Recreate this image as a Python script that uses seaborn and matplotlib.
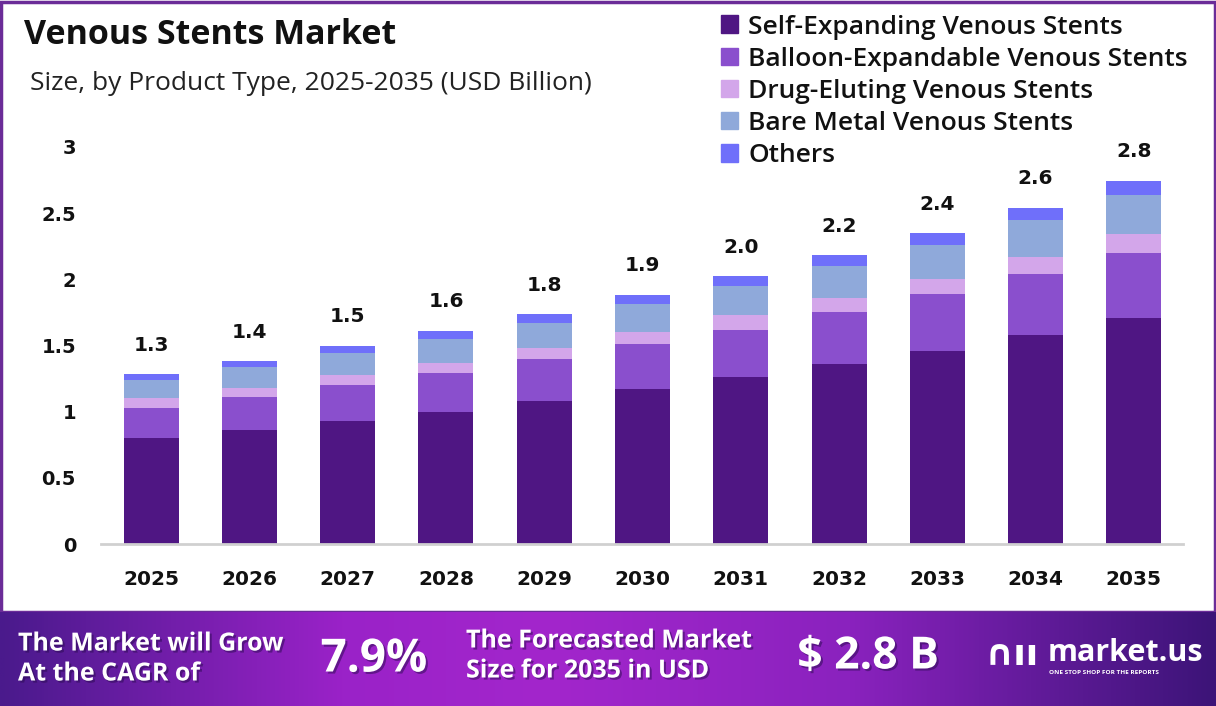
import numpy as np
import pandas as pd
import matplotlib
matplotlib.use("Agg")
import matplotlib.pyplot as plt
import seaborn as sns
from matplotlib.colors import LinearSegmentedColormap
from matplotlib.patches import Rectangle
import matplotlib.patheffects as pe

# ---------------- data ----------------
years = ["2025", "2026", "2027", "2028", "2029", "2030",
         "2031", "2032", "2033", "2034", "2035"]
self_expanding = [0.80, 0.86, 0.93, 1.00, 1.08, 1.17, 1.26, 1.36, 1.46, 1.58, 1.71]
balloon_expandable = [0.23, 0.25, 0.27, 0.29, 0.32, 0.34, 0.36, 0.39, 0.43, 0.46, 0.49]
drug_eluting = [0.07, 0.07, 0.075, 0.08, 0.08, 0.09, 0.11, 0.11, 0.11, 0.13, 0.14]
bare_metal = [0.14, 0.16, 0.17, 0.18, 0.19, 0.21, 0.22, 0.24, 0.26, 0.28, 0.30]
others = [0.045, 0.043, 0.053, 0.06, 0.066, 0.073, 0.075, 0.083, 0.09, 0.09, 0.106]
total_labels = ["1.3", "1.4", "1.5", "1.6", "1.8", "1.9", "2.0", "2.2", "2.4", "2.6", "2.8"]
y_ticks = [0, 0.5, 1, 1.5, 2, 2.5, 3]
y_tick_labels = ["0", "0.5", "1", "1.5", "2", "2.5", "3"]

segments = ["Self-Expanding Venous Stents", "Balloon-Expandable Venous Stents",
            "Drug-Eluting Venous Stents", "Bare Metal Venous Stents", "Others"]
seg_values = [self_expanding, balloon_expandable, drug_eluting, bare_metal, others]
colors = ["#4f1683", "#8a4fcd", "#d3a6ea", "#8fa9da", "#6f6ffa"]

title = "Venous Stents Market"
subtitle = "Size, by Product Type, 2025-2035 (USD Billion)"
cagr = "7.9%"
forecast = "$ 2.8 B"

# ---------------- style ----------------
sns.set_theme(style="white")
FONT = ["Open Sans", "DejaVu Sans"]
NUMF = ["DejaVu Sans"]
plt.rcParams["font.family"] = FONT

W, H = 1216, 706
fig = plt.figure(figsize=(W / 100, H / 100), dpi=100)
fig.patch.set_facecolor("white")

def fx(px):
    return px / W

def fy(py):
    return 1 - py / H

# axes: x from 101 to 1183, y from 147 (value 3) to 544 (value 0)
ax = fig.add_axes([fx(101), fy(544), fx(1183) - fx(101), fy(147) - fy(544)])

cum = np.zeros(len(years))
cums = []
for vals in seg_values:
    cum = cum + np.array(vals)
    cums.append(cum.copy())

# draw cumulative layers from top to bottom so the stacks show
for i in range(len(segments) - 1, -1, -1):
    d = pd.DataFrame({"year": years, "value": cums[i]})
    sns.barplot(data=d, x="year", y="value", color=colors[i], width=0.56,
                saturation=1, ax=ax, zorder=2 + (len(segments) - i),
                linewidth=0, edgecolor="none")

totals = cums[-1]
for i, lab in enumerate(total_labels):
    ax.annotate(lab, (i, totals[i]), xytext=(0, 14), textcoords="offset points",
                ha="center", va="bottom", fontsize=14.5, fontweight="bold",
                color="#111111", annotation_clip=False, family=NUMF)

ax.set_xlim(-0.51, 10.5)
ax.set_ylim(0, 3)
ax.set_yticks(y_ticks)
ax.set_yticklabels(y_tick_labels, fontsize=14, fontweight="bold",
                   color="#111111", family=NUMF)
ax.tick_params(axis="y", length=0, pad=18)
ax.tick_params(axis="x", length=0, pad=19)
for t in ax.get_xticklabels():
    t.set_fontweight("bold")
    t.set_color("#111111")
    t.set_fontsize(14.5)
    t.set_family(NUMF)
ax.set_xlabel("")
ax.set_ylabel("")
for s in ["top", "right", "left"]:
    ax.spines[s].set_visible(False)
ax.spines["bottom"].set_color("#d0d0d0")
ax.spines["bottom"].set_linewidth(2)
ax.spines["bottom"].set_zorder(20)
ax.set_facecolor("none")
ax.grid(False)

# legend
handles = [Rectangle((0, 0), 1, 1, color=c) for c in colors]
leg = fig.legend(handles, segments, loc="upper left",
                 bbox_to_anchor=(fx(710), fy(4)), frameon=False,
                 fontsize=19, handlelength=0.65, handleheight=0.65,
                 handletextpad=0.4, labelspacing=0.27, borderaxespad=0)
for t in leg.get_texts():
    t.set_fontweight("semibold")
    t.set_color("#111111")

# titles
fig.text(fx(24), fy(35), title, fontsize=24.5, fontweight="bold",
         color="#111111", va="center", ha="left")
fig.text(fx(30), fy(83), subtitle, fontsize=19, color="#222222",
         va="center", ha="left")

# border around chart area
border = Rectangle((fx(1), fy(612)), fx(1214), fy(2) - fy(612),
                   transform=fig.transFigure, fill=False,
                   edgecolor="#6b2c98", linewidth=2.5, zorder=0)
fig.add_artist(border)

# bottom banner with gradient
bax = fig.add_axes([0, 0, 1, fy(612)])
cmap = LinearSegmentedColormap.from_list(
    "banner", [(0.0, "#4a1a8c"), (0.28, "#9a22c8"), (0.45, "#a326cc"),
               (0.7, "#8a22be"), (1.0, "#3c1478")])
grad = np.linspace(0, 1, 512).reshape(1, -1)
bax.imshow(grad, aspect="auto", cmap=cmap, extent=[0, 1, 0, 1])
bax.set_axis_off()

shadow = [pe.withSimplePatchShadow(offset=(1.5, -1.5), shadow_rgbFace="#2a0a50", alpha=0.5)]
fig.text(fx(18), fy(644), "The Market will Grow", fontsize=18, fontweight="bold",
         color="white", va="center", ha="left", family=FONT, path_effects=shadow)
fig.text(fx(18), fy(674), "At the CAGR of", fontsize=18, fontweight="bold",
         color="white", va="center", ha="left", family=FONT, path_effects=shadow)
fig.text(fx(374), fy(659), cagr, fontsize=33, fontweight="bold",
         color="white", va="center", ha="center", family=FONT, path_effects=shadow)
fig.text(fx(466), fy(641), "The Forecasted Market", fontsize=18, fontweight="bold",
         color="white", va="center", ha="left", family=FONT, path_effects=shadow)
fig.text(fx(466), fy(671), "Size for 2035 in USD", fontsize=18, fontweight="bold",
         color="white", va="center", ha="left", family=FONT, path_effects=shadow)
fig.text(fx(868), fy(657), forecast, fontsize=32, fontweight="bold",
         color="white", va="center", ha="center", family=FONT, path_effects=shadow)
# logo
fig.text(fx(985), fy(655), "\u2229\u0131\u0131", fontsize=26, fontweight="bold",
         color="white", va="center", ha="left", family=["DejaVu Sans"])
fig.text(fx(1048), fy(653), "market.us", fontsize=22, fontweight="bold",
         color="white", va="center", ha="left", family=FONT)
fig.text(fx(1049), fy(672), "ONE STOP SHOP FOR THE REPORTS", fontsize=4.6,
         fontweight="bold", color="white", va="center", ha="left", family=FONT)

fig.savefig("out.png", dpi=100, facecolor="white")
